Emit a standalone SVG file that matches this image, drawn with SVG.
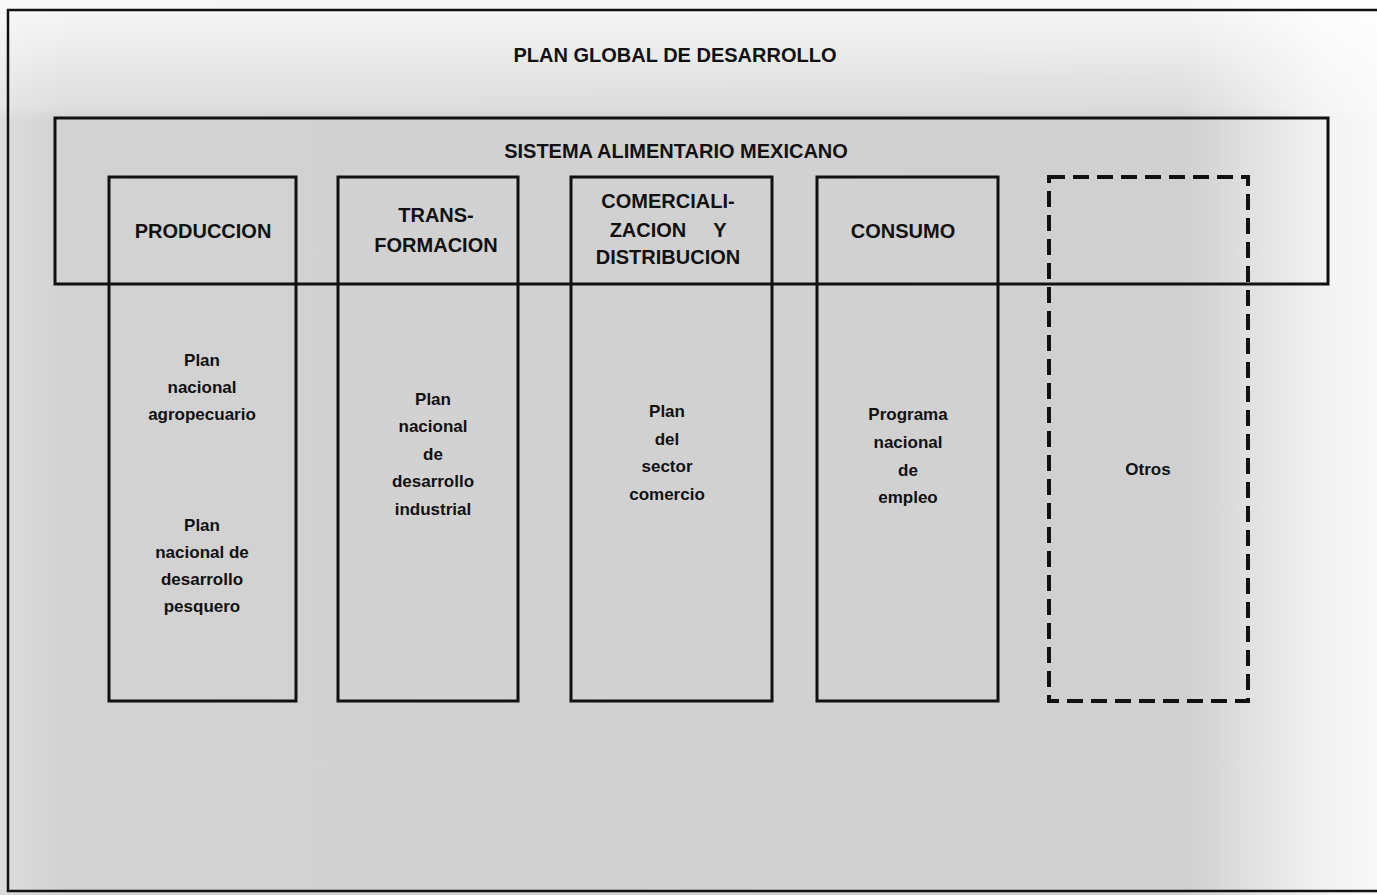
<svg xmlns="http://www.w3.org/2000/svg" width="1377" height="895" viewBox="0 0 1377 895">
<defs>
<style>
.t{font-family:"Liberation Sans",Arial,Helvetica,sans-serif;font-weight:bold;fill:#111;text-anchor:middle}
.up{font-size:20px}
.lo{font-size:17px}
.box{fill:none;stroke:#111;stroke-width:3}
.dash{fill:none;stroke:#111;stroke-width:4;stroke-dasharray:16 8}
.frame{fill:none;stroke:#111;stroke-width:2.5}
</style>
<linearGradient id="bgx" x1="0" y1="0" x2="1" y2="0">
<stop offset="0" stop-color="#dcdcdc"/>
<stop offset="0.05" stop-color="#d2d2d2"/>
<stop offset="0.86" stop-color="#d0d0d0"/>
<stop offset="0.96" stop-color="#f2f2f2"/>
<stop offset="1" stop-color="#f8f8f8"/>
</linearGradient>
<linearGradient id="bgy" x1="0" y1="0" x2="0" y2="1">
<stop offset="0" stop-color="#ffffff" stop-opacity="0.85"/>
<stop offset="0.9" stop-color="#ffffff" stop-opacity="0.25"/>
<stop offset="1" stop-color="#ffffff" stop-opacity="0"/>
</linearGradient>
</defs>
<rect x="0" y="0" width="1377" height="895" fill="#fafafa"/>
<rect x="0" y="0" width="1377" height="895" fill="url(#bgx)"/>
<rect x="0" y="0" width="1377" height="120" fill="url(#bgy)"/>
<path class="frame" d="M1380,10 H8 V891 H1380"/>
<g id="title"><text class="t up" x="675" y="62">PLAN GLOBAL DE DESARROLLO</text></g>
<g id="sam">
<rect class="box" x="55" y="118" width="1273" height="166"/>
<text class="t up" x="676" y="158">SISTEMA ALIMENTARIO MEXICANO</text>
</g>
<g id="produccion">
<rect class="box" x="109" y="177" width="187" height="524"/>
<text class="t up" x="203" y="238">PRODUCCION</text>
<text class="t lo" x="202" y="366">Plan</text>
<text class="t lo" x="202" y="393">nacional</text>
<text class="t lo" x="202" y="420">agropecuario</text>
<text class="t lo" x="202" y="531">Plan</text>
<text class="t lo" x="202" y="558">nacional de</text>
<text class="t lo" x="202" y="585">desarrollo</text>
<text class="t lo" x="202" y="612">pesquero</text>
</g>
<g id="transformacion">
<rect class="box" x="338" y="177" width="180" height="524"/>
<text class="t up" x="436" y="222">TRANS-</text>
<text class="t up" x="436" y="252">FORMACION</text>
<text class="t lo" x="433" y="405">Plan</text>
<text class="t lo" x="433" y="432">nacional</text>
<text class="t lo" x="433" y="460">de</text>
<text class="t lo" x="433" y="487">desarrollo</text>
<text class="t lo" x="433" y="515">industrial</text>
</g>
<g id="comercializacion">
<rect class="box" x="571" y="177" width="201" height="524"/>
<text class="t up" x="668" y="208">COMERCIALI-</text>
<text class="t up" x="668" y="237"><tspan x="648">ZACION</tspan><tspan x="720">Y</tspan></text>
<text class="t up" x="668" y="264">DISTRIBUCION</text>
<text class="t lo" x="667" y="417">Plan</text>
<text class="t lo" x="667" y="445">del</text>
<text class="t lo" x="667" y="472">sector</text>
<text class="t lo" x="667" y="500">comercio</text>
</g>
<g id="consumo">
<rect class="box" x="817" y="177" width="181" height="524"/>
<text class="t up" x="903" y="238">CONSUMO</text>
<text class="t lo" x="908" y="420">Programa</text>
<text class="t lo" x="908" y="448">nacional</text>
<text class="t lo" x="908" y="476">de</text>
<text class="t lo" x="908" y="503">empleo</text>
</g>
<g id="otros">
<rect class="dash" x="1049" y="177" width="199" height="524"/>
<text class="t lo" x="1148" y="475">Otros</text>
</g>
<g id="connectors"/>
</svg>
